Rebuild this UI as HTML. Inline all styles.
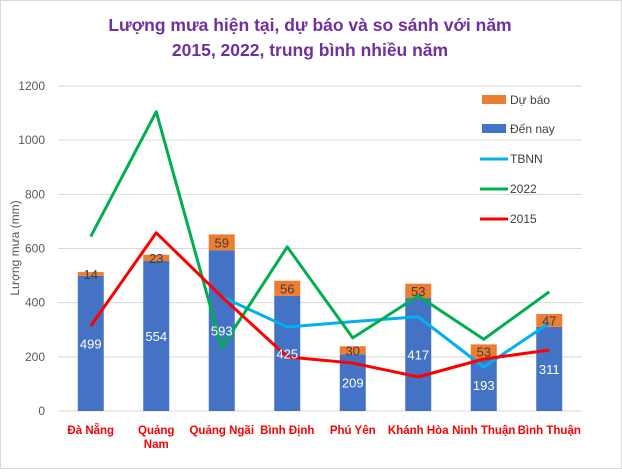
<!DOCTYPE html>
<html><head><meta charset="utf-8"><style>
body{margin:0;background:#fff;font-family:"Liberation Sans",sans-serif}
svg text{font-family:"Liberation Sans",sans-serif}
</style></head><body>
<svg id="c" width="622" height="469" xmlns="http://www.w3.org/2000/svg">
<rect x="0.5" y="0.5" width="621" height="468" fill="#fff" stroke="#d9d9d9"/>
<text x="310" y="31" text-anchor="middle" font-size="17.5" font-weight="bold" fill="#7030A0">Lượng mưa hiện tại, dự báo và so sánh với năm</text>
<text x="310" y="56" text-anchor="middle" font-size="17.5" font-weight="bold" fill="#7030A0">2015, 2022, trung bình nhiều năm</text>
<text transform="translate(19,248) rotate(-90)" text-anchor="middle" font-size="12" fill="#595959">Lượng mưa (mm)</text>
<g id="grid"></g><g id="bars"></g><g id="lines"></g><g id="labels"></g><g id="legend"></g>
</svg>
<script>
const categories=["Đà Nẵng","Quảng Nam","Quảng Ngãi","Bình Định","Phú Yên","Khánh Hòa","Ninh Thuận","Bình Thuận"];
const denNay=[499,554,593,425,209,417,193,311];
const duBao=[14,23,59,56,30,53,53,47];
const tbnn=[null,null,422,310,330,348,162,325];
const y2022=[644,1105,234,606,270,425,265,440];
const y2015=[314,658,422,200,177,126,192,225];
const yTicks=[0,200,400,600,800,1000,1200];
const NS="http://www.w3.org/2000/svg";
const L=58,R=582,T=86,B=411,maxY=1200;
const bw=(R-L)/categories.length;
const xs=i=>L+bw*(i+0.5);
const ys=v=>B-(v/maxY)*(B-T);
function mk(tag,attrs,parent,txt){const e=document.createElementNS(NS,tag);for(const k in attrs)e.setAttribute(k,attrs[k]);if(txt!==undefined)e.textContent=txt;parent.appendChild(e);return e;}
const grid=document.getElementById('grid');
yTicks.forEach(t=>{
 const l=mk('line',{x1:L,x2:R,y1:ys(t),y2:ys(t),stroke:'#d9d9d9','stroke-width':1},grid);
 
 
 const tx=mk('text',{x:45,y:ys(t)+4,'text-anchor':'end','font-size':12,fill:'#595959'},grid,t);
 
 
});
const bars=document.getElementById('bars'),labels=document.getElementById('labels');
const W=26;
categories.forEach((c,i)=>{
 const x=xs(i)-W/2;
 const b1=mk('rect',{x:x,y:ys(denNay[i]),width:W,height:B-ys(denNay[i]),fill:'#4472C4'},bars);
 
 
 const top=denNay[i]+duBao[i];
 const b2=mk('rect',{x:x,y:ys(top),width:W,height:ys(denNay[i])-ys(top),fill:'#ED7D31'},bars);
 
 
 const l1=mk('text',{x:xs(i),y:ys(denNay[i]/2)+5,'text-anchor':'middle','font-size':13,fill:'#fff'},labels,denNay[i]);
 
 
 const l2=mk('text',{x:xs(i),y:(ys(top)+ys(denNay[i]))/2+5,'text-anchor':'middle','font-size':13,fill:'#404040'},labels,duBao[i]);
 
 
 const parts=c==="Quảng Nam"?["Quảng","Nam"]:[c];
 parts.forEach((p,k)=>{
  const ct=mk('text',{x:xs(i),y:434+k*14,'text-anchor':'middle','font-size':11.5,'font-weight':'bold',fill:'#FF0000'},labels,p);
  
  
 });
});
const lines=document.getElementById('lines');
function drawLine(arr,color,name){
 let d='';let started=false;
 arr.forEach((v,i)=>{if(v==null){started=false;return;}d+=(started?'L':'M')+xs(i)+','+ys(v)+' ';started=true;});
 const p=mk('path',{d:d,fill:'none',stroke:color,'stroke-width':3,'stroke-linejoin':'round'},lines);
 
 
}
drawLine(tbnn,'#00B0F0','line-tbnn');
drawLine(y2022,'#00B050','line-2022');
drawLine(y2015,'#FF0000','line-2015');
const lg=document.getElementById('legend');
const items=[['Dự báo','#ED7D31','box',100],['Đến nay','#4472C4','box',129],['TBNN','#00B0F0','line',159],['2022','#00B050','line',189],['2015','#FF0000','line',219]];
items.forEach(it=>{
 const g=mk('g',{},lg);
 
 
 if(it[2]==='box')mk('rect',{x:482,y:it[3]-5,width:24,height:9,fill:it[1]},g);
 else mk('line',{x1:480,x2:508,y1:it[3],y2:it[3],stroke:it[1],'stroke-width':3},g);
 mk('text',{x:510,y:it[3]+4,'font-size':12,fill:'#404040'},g,it[0]);
});
</script>
</body></html>
